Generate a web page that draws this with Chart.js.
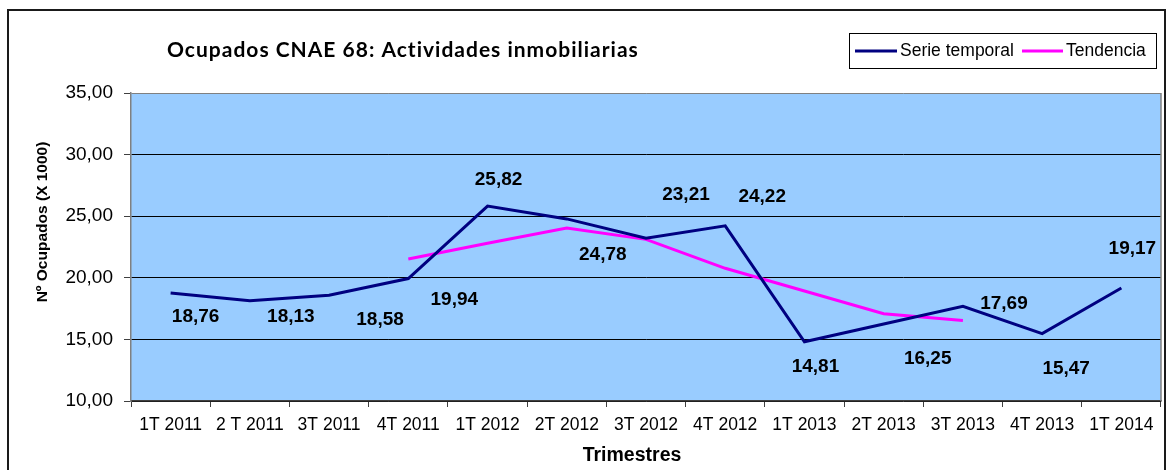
<!DOCTYPE html>
<html>
<head>
<meta charset="utf-8">
<script src="https://cdn.jsdelivr.net/npm/chart.js@4.4.1/dist/chart.umd.min.js"></script>
<style>
  html, body { margin: 0; padding: 0; background: #ffffff; }
  canvas { display: block; }
</style>
</head>
<body>
<canvas id="c" width="1168" height="470"></canvas>
<script>
// ---- Data ----
const categories = ['1T 2011', '2 T 2011', '3T 2011', '4T 2011', '1T 2012', '2T 2012', '3T 2012', '4T 2012', '1T 2013', '2T 2013', '3T 2013', '4T 2013', '1T 2014'];
const serieTemporal = [18.76, 18.13, 18.58, 19.94, 25.82, 24.78, 23.21, 24.22, 14.81, 16.25, 17.69, 15.47, 19.17];
const tendencia = [null, null, null, 21.53, 22.8, 24.04, 23.12, 20.77, 18.93, 17.09, 16.54, null, null];
const yTicks = [10, 15, 20, 25, 30, 35];
const seriesNames = ['Serie temporal', 'Tendencia'];
const chartTitle = 'Ocupados CNAE 68: Actividades inmobiliarias';
const yAxisTitle = 'Nº Ocupados (X 1000)';
const xAxisTitle = 'Trimestres';

const FONT = "'Liberation Sans', Arial, sans-serif";
const fmt = v => v.toFixed(2).replace('.', ',');

const decorPlugin = {
  id: 'decor',
  beforeDraw(chart) {
    const ctx = chart.ctx, a = chart.chartArea;
    ctx.save();
    ctx.fillStyle = '#ffffff';
    ctx.fillRect(0, 0, chart.width, chart.height);
    // outer frame
    ctx.strokeStyle = '#1a1a1a';
    ctx.lineWidth = 2;
    ctx.strokeRect(8, 10, 1157, 480);
    // plot background
    ctx.fillStyle = '#99CCFF';
    ctx.fillRect(a.left, a.top, a.right - a.left, a.bottom - a.top);
    ctx.restore();
  },
  beforeDatasetsDraw(chart) {
    const ctx = chart.ctx, a = chart.chartArea;
    ctx.save();
    ctx.strokeStyle = '#808080';
    ctx.lineWidth = 1.5;
    ctx.beginPath();
    ctx.moveTo(a.right, a.top);
    ctx.lineTo(a.right, a.bottom);
    ctx.stroke();
    ctx.restore();
  },
  afterDatasetsDraw(chart, args, opts) {
    const ctx = chart.ctx;
    ctx.save();
    // data labels for the main series
    const meta = chart.getDatasetMeta(0);
    ctx.font = 'bold 19px ' + FONT;
    ctx.fillStyle = '#000000';
    ctx.textAlign = 'center';
    ctx.textBaseline = 'middle';
    meta.data.forEach((pt, i) => {
      const off = opts.labelOffsets[i];
      ctx.fillText(fmt(serieTemporal[i]), pt.x + off[0], pt.y + off[1]);
    });
    // title
    ctx.save();
    ctx.font = 'bold 21px Lato, ' + FONT;
    ctx.letterSpacing = '1px';
    ctx.textAlign = 'left';
    ctx.textBaseline = 'alphabetic';
    ctx.fillText(chartTitle, 167, 57);
    ctx.restore();
    // axis titles
    ctx.font = 'bold 19.5px ' + FONT;
    ctx.textAlign = 'center';
    ctx.textBaseline = 'middle';
    ctx.fillText(xAxisTitle, 632, 456);
    ctx.save();
    ctx.translate(43, 222);
    ctx.rotate(-Math.PI / 2);
    ctx.font = 'bold 15.5px ' + FONT;
    ctx.fillText(yAxisTitle, 0, 0);
    ctx.restore();
    // legend
    ctx.fillStyle = '#ffffff';
    ctx.fillRect(849, 33, 307, 35);
    ctx.strokeStyle = '#000000';
    ctx.lineWidth = 1;
    ctx.strokeRect(849.5, 33.5, 307, 35);
    const items = [{x0: 855, x1: 897, tx: 900}, {x0: 1022, x1: 1063, tx: 1066}];
    ctx.font = '17.5px ' + FONT;
    ctx.textAlign = 'left';
    ctx.textBaseline = 'middle';
    chart.data.datasets.forEach((ds, i) => {
      const it = items[i];
      ctx.strokeStyle = ds.borderColor;
      ctx.lineWidth = 3;
      ctx.beginPath();
      ctx.moveTo(it.x0, 51);
      ctx.lineTo(it.x1, 51);
      ctx.stroke();
      ctx.fillStyle = '#000000';
      ctx.fillText(ds.label, it.tx, 51.5);
    });
    ctx.restore();
  }
};

new Chart(document.getElementById('c'), {
  type: 'line',
  data: {
    labels: categories,
    datasets: [
      { label: seriesNames[0], data: serieTemporal, borderColor: '#000080', borderWidth: 3, pointRadius: 0, tension: 0, fill: false },
      { label: seriesNames[1], data: tendencia, borderColor: '#FF00FF', borderWidth: 3, pointRadius: 0, tension: 0, fill: false }
    ]
  },
  options: {
    responsive: false,
    animation: false,
    devicePixelRatio: 1,
    layout: { padding: { left: 0, top: 93, right: 7, bottom: 0 } },
    plugins: {
      legend: { display: false },
      title: { display: false },
      tooltip: { enabled: false },
      decor: {
        labelOffsets: [[25, 24], [41, 16], [51, 24], [46, 21], [11, -26], [36, 36], [40, -43], [37, -29], [11, 25], [44, 35], [41, -2], [24, 35], [11, -39]]
      }
    },
    scales: {
      x: {
        offset: true,
        afterFit: s => { s.height = 69; },
        grid: { offset: true, drawOnChartArea: false, drawTicks: true, tickLength: 6, tickColor: '#404040', lineWidth: 1 },
        border: { display: true, color: '#404040', width: 1.5 },
        ticks: { color: '#000000', font: { family: FONT, size: 17.5 }, padding: 8, maxRotation: 0, autoSkip: false }
      },
      y: {
        min: yTicks[0],
        max: yTicks[yTicks.length - 1],
        afterFit: s => { s.width = 131; },
        afterBuildTicks: s => { s.ticks = yTicks.map(v => ({ value: v })); },
        grid: {
          color: c => (c.tick && c.tick.value === yTicks[yTicks.length - 1]) ? '#808080' : '#000000',
          lineWidth: 1, drawTicks: true, tickLength: 7, tickColor: '#404040'
        },
        border: { display: true, color: '#808080', width: 1.5 },
        ticks: { color: '#000000', font: { family: FONT, size: 19 }, padding: 11, callback: v => fmt(v) }
      }
    }
  },
  plugins: [decorPlugin]
});
</script>
</body>
</html>
